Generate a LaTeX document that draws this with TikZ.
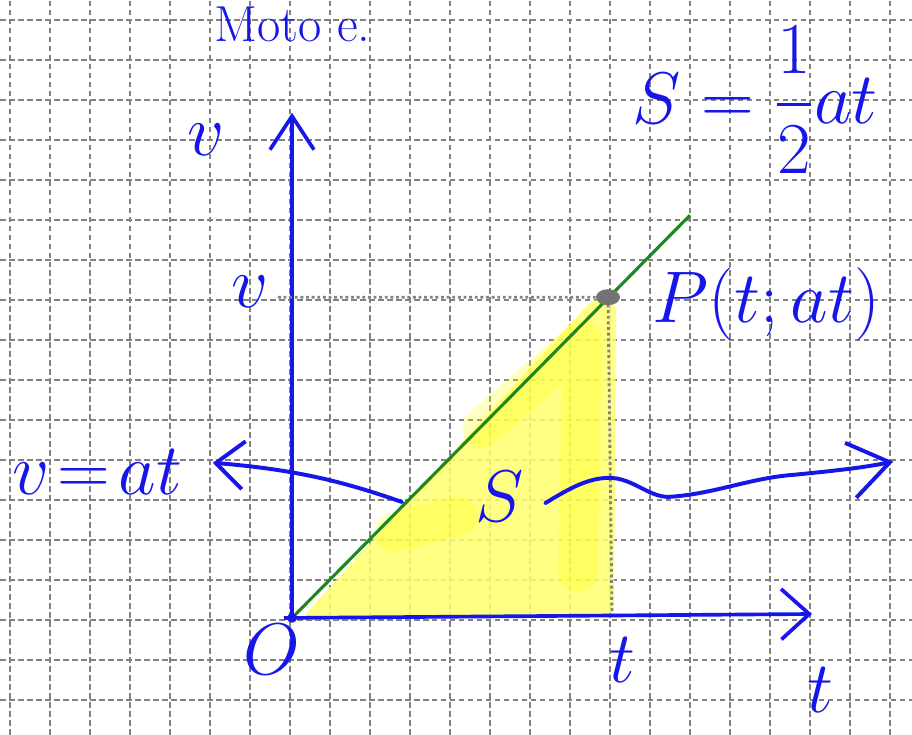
\RequirePackage{fix-cm}
\documentclass[tikz,border=0pt]{standalone}
\usepackage{amsmath,amssymb}
\usepackage{xcolor}
\usepackage{tikz}
\usetikzlibrary{arrows.meta,positioning,calc}
\definecolor{ink}{RGB}{22,22,235}
\definecolor{slope}{RGB}{30,135,30}
\definecolor{gridgray}{RGB}{130,130,130}
\definecolor{hilite}{RGB}{255,255,110}
\definecolor{hicore}{RGB}{255,255,0}
\tikzset{
  gridline/.style={gridgray, line width=0.6pt, dash pattern=on 2pt off 1.2pt},
  axis/.style={ink, line width=1.3pt},
  inkarrow/.style={ink, line width=1.4pt, line cap=round, line join=round},
  guide/.style={gridgray, line width=1pt, densely dotted},
  hand/.style={text=ink, font=\fontsize{26}{30}\selectfont, inner sep=0pt}
}

\begin{document}
\begin{tikzpicture}[x=0.5cm,y=0.5cm]
  \useasboundingbox (-7.25,-2.875) rectangle (15.55,15.5);
  \clip (-7.25,-2.875) rectangle (15.55,15.5);
  \fill[white] (-7.25,-2.875) rectangle (15.55,15.5);
  % squared paper
  \foreach \x in {-7,...,15} \draw[gridline] (\x,-2.875) -- (\x,15.5);
  \foreach \y in {-2,...,15} \draw[gridline] (-7.25,\y) -- (15.55,\y);

  \coordinate (O) at (0.05,0.05);
  \coordinate (P) at (7.95,8.07);
  \coordinate (vtip) at (0.05,12.68);
  \coordinate (tstart) at (-0.15,0.05);
  \coordinate (ttip) at (13.05,0.15);
  \coordinate (lineend) at (10,10.12);
  \coordinate (vleft) at (-0.3,8.07);
  \coordinate (tfoot) at (8.05,0.15);
  \coordinate (lstart) at (2.8,2.95);
  \coordinate (ltip) at (-1.93,3.93);
  \coordinate (rstart) at (6.38,2.92);
  \coordinate (rtip) at (15.08,3.96);

  % area under the line
  \fill[hilite, fill opacity=0.85, rounded corners=4pt] (0.25,0) -- (7.6,8.05) -- (8.15,8.0) -- (8.1,0.1) -- cycle;
  \draw[hicore, opacity=0.25, line width=14pt, line cap=round, line join=round]
    (2.6,2.2) -- (4.2,2.6) (4.8,4.8) -- (7.3,7.0) -- (7.2,1.2);

  \draw[slope, line width=1.1pt] (O) -- (lineend);
  \draw[axis, -{Straight Barb[length=4.2mm,width=5.5mm]}] (O) -- (vtip);
  \draw[axis, -{Straight Barb[length=3.5mm,width=6.3mm]}] (tstart) -- (ttip);
  \draw[guide] (vleft) -- (P) -- (tfoot);
  \fill[gray!90!black] (P) ellipse [x radius=0.3, y radius=0.2];
  \fill[ink] (O) circle (0.12);

  \node[hand] (vaxis) at (-2.1,12.0) {$v$};
  \node[hand] (vval) at (-1.0,8.2) {$v$};
  \node[hand, anchor=west] (vat) at (-6.95,3.7) {$v\!=\!at$};
  \node[hand] (S) at (5.25,3.08) {$S$};
  \node[hand] (Olab) at (-0.45,-0.75) {$O$};
  \node[hand] (tval) at (8.3,-1.0) {$t$};
  \node[hand] (taxis) at (13.25,-1.75) {$t$};
  \node[hand, anchor=west] (Pt) at (9.05,7.9) {$P(t;at)$};
  \node[hand, anchor=west] (area) at (8.55,13.0) {$S=\dfrac{1}{2}at$};
  \node[hand, font=\fontsize{18}{22}\selectfont, anchor=base west] (title) at (-1.9,14.45) {Moto e.};

  \draw[inkarrow, -{Straight Barb[length=3.5mm,width=6mm]}] (lstart) .. controls (1.5,3.4) and (0.3,3.75) .. (ltip);
  \draw[inkarrow, -{Straight Barb[length=5mm,width=7mm]}] (rstart) .. controls (7.0,3.3) and (7.5,3.58) .. (8.05,3.55)
    .. controls (8.6,3.52) and (9.0,3.05) .. (9.5,3.08) .. controls (10.6,3.15) and (11.5,3.55) .. (12.6,3.63)
    .. controls (13.5,3.72) and (14.3,3.8) .. (rtip);
\end{tikzpicture}
\end{document}
